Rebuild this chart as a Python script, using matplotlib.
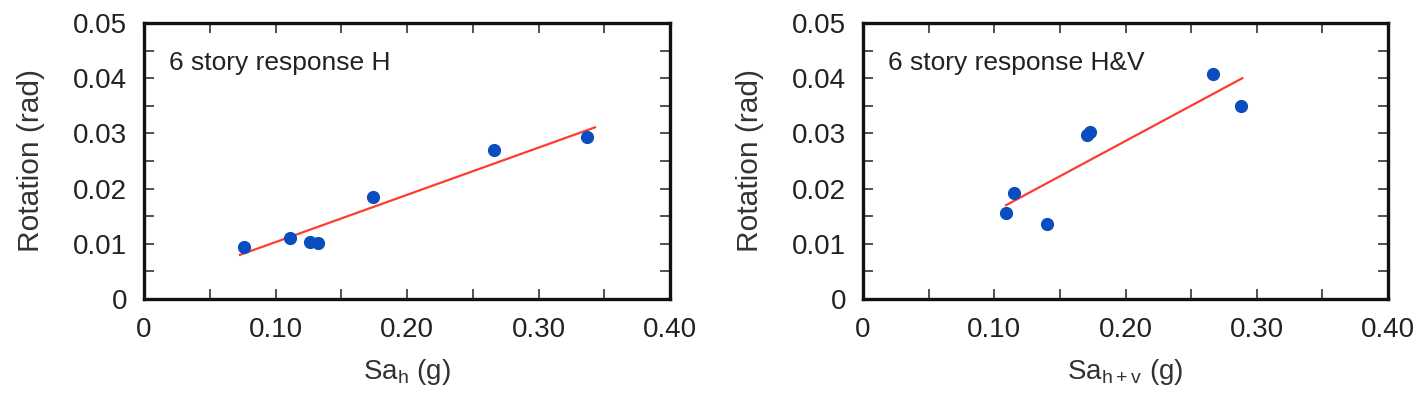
import numpy as np
import matplotlib.pyplot as plt
from matplotlib.ticker import FixedLocator, FixedFormatter

plt.rcParams['font.family'] = ['Liberation Sans', 'DejaVu Sans']

# left panel: horizontal only
sa_h = [0.076, 0.111, 0.126, 0.132, 0.174, 0.266, 0.337]
rot_h = [0.0095, 0.0110, 0.0103, 0.0101, 0.0185, 0.0270, 0.0294]
fit_h_x = [0.073, 0.343]
fit_h_y = [0.0080, 0.0311]

# right panel: horizontal + vertical
sa_hv = [0.109, 0.115, 0.140, 0.171, 0.173, 0.267, 0.288]
rot_hv = [0.0155, 0.0192, 0.0135, 0.0297, 0.0303, 0.0408, 0.0350]
fit_hv_x = [0.109, 0.289]
fit_hv_y = [0.0170, 0.0400]

xticks = [0, 0.10, 0.20, 0.30, 0.40]
xlabels = ['0', '0.10', '0.20', '0.30', '0.40']
yticks = [0, 0.01, 0.02, 0.03, 0.04, 0.05]
ylabels = ['0', '0.01', '0.02', '0.03', '0.04', '0.05']

fig = plt.figure(figsize=(14.21, 3.98), dpi=100)
ax1 = fig.add_axes([144/1421, 99/398, 526/1421, 276/398])
ax2 = fig.add_axes([863/1421, 99/398, 525/1421, 276/398])

panels = [
    (ax1, sa_h, rot_h, fit_h_x, fit_h_y, '6 story response H', 'Sa$_\\mathregular{h}$ (g)'),
    (ax2, sa_hv, rot_hv, fit_hv_x, fit_hv_y, '6 story response H&V', 'Sa$_\\mathregular{h+v}$ (g)'),
]

for ax, x, y, fx, fy, note, xl in panels:
    ax.plot(fx, fy, color='#ff3b30', lw=1.6, zorder=2)
    ax.scatter(x, y, s=72, color='#0a4dbf', zorder=3)
    ax.set_xlim(0, 0.40)
    ax.set_ylim(0, 0.05)
    ax.xaxis.set_major_locator(FixedLocator(xticks))
    ax.xaxis.set_major_formatter(FixedFormatter(xlabels))
    ax.yaxis.set_major_locator(FixedLocator(yticks))
    ax.yaxis.set_major_formatter(FixedFormatter(ylabels))
    ax.set_xticks(np.arange(0.05, 0.4, 0.1), minor=True)
    ax.set_yticks(np.arange(0.005, 0.05, 0.01), minor=True)
    ax.tick_params(which='both', direction='in', top=True, right=True, width=1.2,
                   length=7.5, colors='#333333')
    ax.tick_params(axis='y', which='major', labelsize=20, pad=12, labelcolor='#222222')
    ax.tick_params(axis='x', which='major', labelsize=20, pad=13, labelcolor='#222222')
    for s in ax.spines.values():
        s.set_linewidth(2.4)
        s.set_color('#111111')
    ax.text(0.048, 0.83, note, transform=ax.transAxes, fontsize=19, color='#222222')
    ax.set_xlabel(xl, fontsize=20, color='#333333', labelpad=10)
    ax.set_ylabel('Rotation (rad)', fontsize=21.5, color='#333333', labelpad=20)

fig.savefig('out.png', dpi=100)
